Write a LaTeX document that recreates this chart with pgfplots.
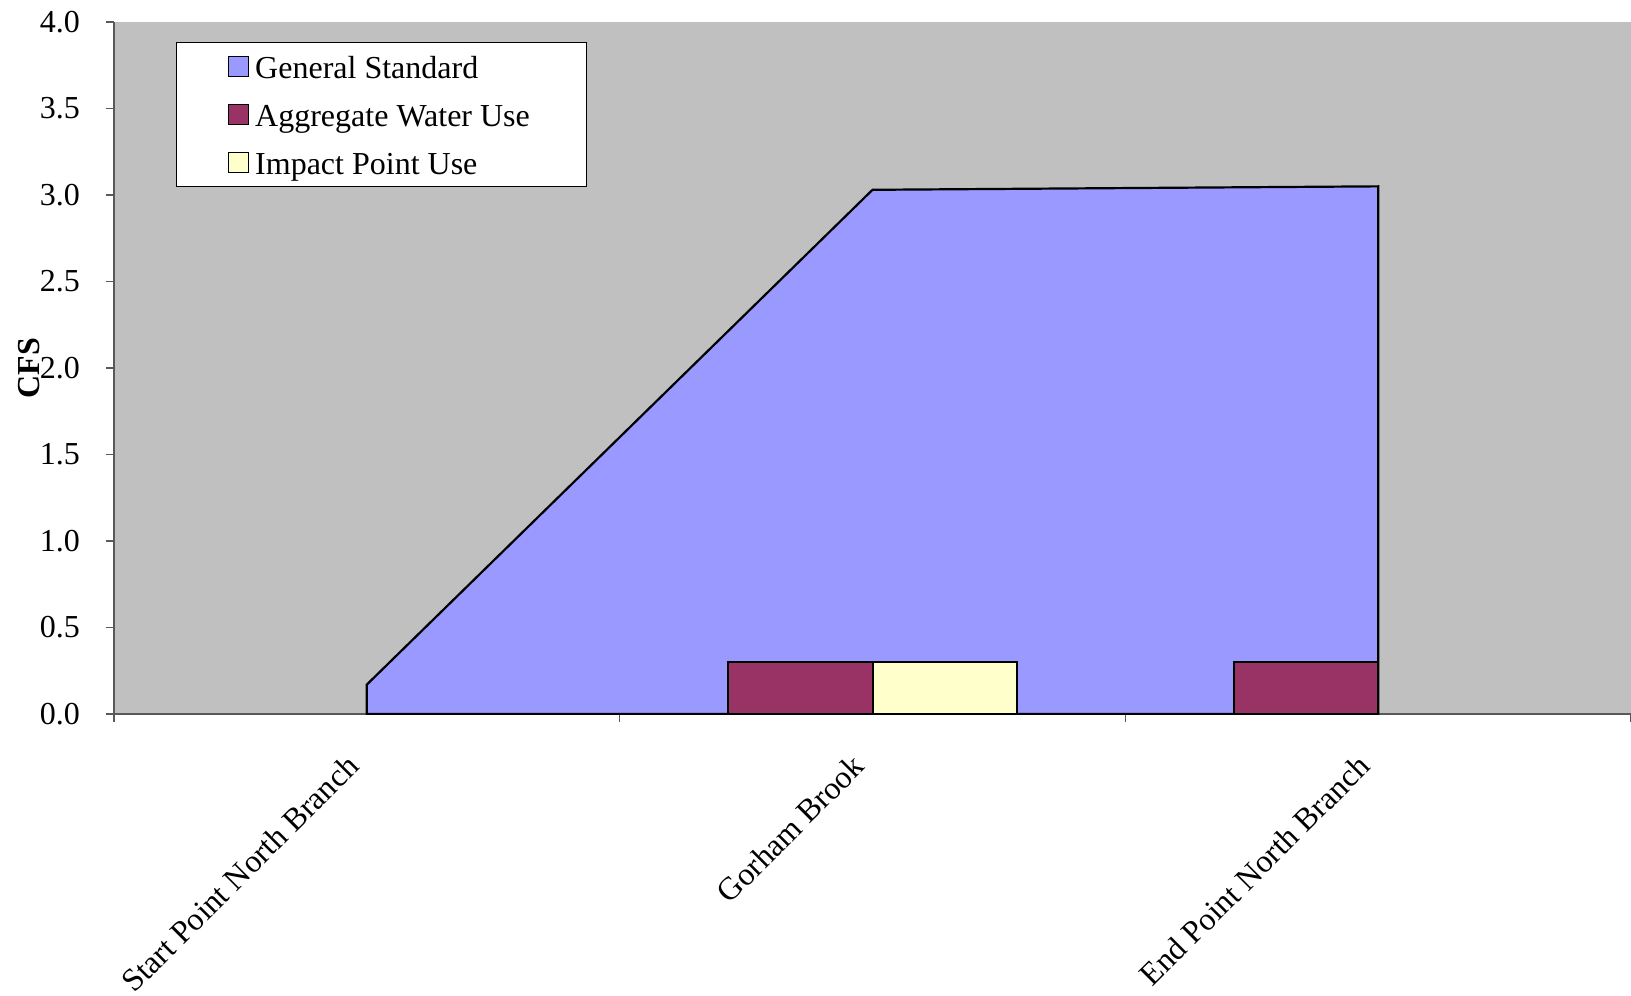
\documentclass[border=0pt]{standalone}
\usepackage{pgfplots}
\pgfplotsset{compat=1.18}
\usepackage{fontspec}
\setmainfont{Liberation Serif}
\definecolor{bgray}{HTML}{C0C0C0}
\definecolor{genstd}{HTML}{9999FF}
\definecolor{aggr}{HTML}{993366}
\definecolor{impact}{HTML}{FFFFCC}
\pgfplotsset{sq legend/.style={legend image code/.code={\draw[##1, draw=black, line width=0.8pt] (0pt,-5pt) rectangle (10pt,5pt);}}}
\begin{document}
\fontsize{16pt}{19pt}\selectfont
\begin{tikzpicture}
\path[use as bounding box] (0,0) rectangle (815.5pt,497.5pt);
\begin{axis}[
  at={(57pt,140.5pt)}, anchor=south west,
  scale only axis, width=758.5pt, height=346pt,
  xmin=0, xmax=3, ymin=0, ymax=4,
  axis background/.style={fill=bgray},
  axis x line*=bottom, axis y line*=left,
  axis line style={-, draw=black!65, line width=0.8pt},
  tick align=outside, major tick length=4pt,
  tick style={draw=black!65, line width=0.8pt},
  xtick={0,1,2,3}, xticklabels={},
  extra x ticks={0.5,1.5,2.5},
  extra x tick labels={Start Point North Branch, Gorham Brook, End Point North Branch},
  extra x tick style={tick style={draw=none}, tick label style={xshift=-11pt, yshift=-7.5pt, rotate=45, anchor=north east}},
  ytick={0,0.5,...,4},
  yticklabel style={xshift=-7.5pt, /pgf/number format/.cd, fixed, fixed zerofill, precision=1},
  /pgf/number format/assume math mode=true,
  tick label style={font=\fontsize{16pt}{19pt}\selectfont},
  ylabel={\textbf{CFS}},
  ylabel style={at={(axis description cs:-0.056,0.5)}, anchor=center, font=\fontsize{16pt}{19pt}\selectfont},
  legend style={at={(0.0409,0.9717)}, anchor=north west, draw=black, fill=white, line width=0.6pt,
    inner xsep=25.5pt, inner ysep=2.6pt, row sep=5pt,
    font=\fontsize{16pt}{19pt}\selectfont,
    nodes={text height=13.5pt, text depth=1.5pt, inner ysep=2pt, inner xsep=3pt}},
  legend cell align=left,
]
\addplot[fill=genstd, draw=black, line width=1.1pt, sq legend] coordinates {(0.5,0.17) (1.5,3.03) (2.5,3.05)} \closedcycle;
\addlegendentry{General Standard}
\addplot[ybar, bar width=0.285, bar shift=-0.1425, fill=aggr, draw=black, line width=1pt, sq legend] coordinates {(1.5,0.3) (2.5,0.3)};
\addlegendentry{Aggregate Water Use}
\addplot[ybar, bar width=0.285, bar shift=0.1425, fill=impact, draw=black, line width=1pt, sq legend] coordinates {(1.5,0.3)};
\addlegendentry{Impact Point Use}
\end{axis}
\end{tikzpicture}
\end{document}
